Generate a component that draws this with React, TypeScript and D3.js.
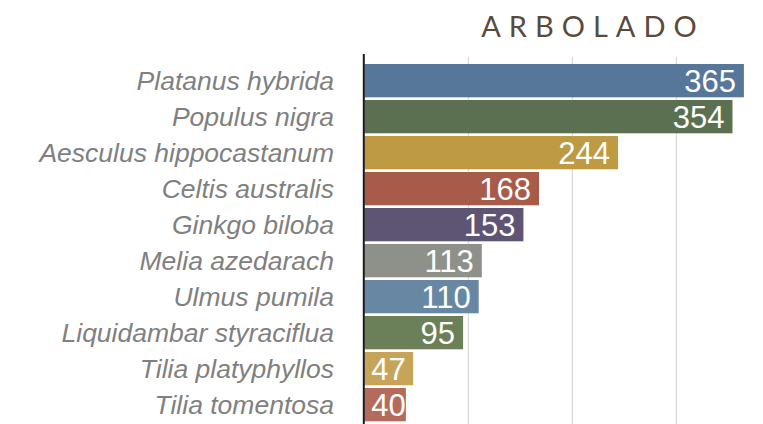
import React from "react";
import * as d3 from "d3";

const species = [
  "Platanus hybrida",
  "Populus nigra",
  "Aesculus hippocastanum",
  "Celtis australis",
  "Ginkgo biloba",
  "Melia azedarach",
  "Ulmus pumila",
  "Liquidambar styraciflua",
  "Tilia platyphyllos",
  "Tilia tomentosa",
];
const counts = [365, 354, 244, 168, 153, 113, 110, 95, 47, 40];
const colors = [
  "#57779a",
  "#5b7050",
  "#be9a42",
  "#a95b4a",
  "#5e5473",
  "#8e918a",
  "#6787a3",
  "#6b7f59",
  "#c6a55a",
  "#b56b5c",
];
const gridTicks = [100, 200, 300];
const title = "ARBOLADO";

export default function App() {
  const W = 763;
  const H = 424;
  const x = d3.scaleLinear().domain([0, 400]).range([364.3, 780.3]);
  const y = d3
    .scaleBand<string>()
    .domain(species)
    .range([62.65, 422.65])
    .paddingInner(0.075)
    .paddingOuter(0.0375);
  const x0 = x(0);
  return (
    <svg
      width={W}
      height={H}
      style={{ position: "absolute", left: 0, top: 0, display: "block" }}
    >
      <rect width={W} height={H} fill="#ffffff" />
      <text
        x={593}
        y={36.7}
        textAnchor="middle"
        fontFamily="Lato, 'Noto Sans', sans-serif"
        fontSize={29}
        letterSpacing={8}
        fill="#5a4a3e"
      >
        {title}
      </text>
      {gridTicks.map((t) => (
        <line
          key={t}
          x1={x(t)}
          x2={x(t)}
          y1={57}
          y2={H}
          stroke="#d0d0d0"
          strokeWidth={1}
        />
      ))}
      {species.map((s, i) => {
        const v = counts[i];
        const yb = y(s)!;
        const bw = y.bandwidth();
        const xe = x(v);
        const small = xe - x0 < 60;
        return (
          <g key={s}>
            <rect x={x0} y={yb} width={xe - x0} height={bw} fill={colors[i]} />
            <text
              x={small ? x0 + 7 : xe - 8}
              y={yb + bw / 2}
              dy="0.35em"
              textAnchor={small ? "start" : "end"}
              fontFamily="'Liberation Sans', Arial, sans-serif"
              fontSize={31}
              fill="#ffffff"
            >
              {v}
            </text>
            <text
              x={334}
              y={yb + bw / 2}
              dy="0.35em"
              textAnchor="end"
              fontFamily="'Liberation Sans', Arial, sans-serif"
              fontStyle="italic"
              fontSize={26.5}
              fill="#808080"
            >
              {s}
            </text>
          </g>
        );
      })}
      <line
        x1={x0 - 0.5}
        x2={x0 - 0.5}
        y1={54}
        y2={H}
        stroke="#1a1a1a"
        strokeWidth={2}
      />
    </svg>
  );
}
